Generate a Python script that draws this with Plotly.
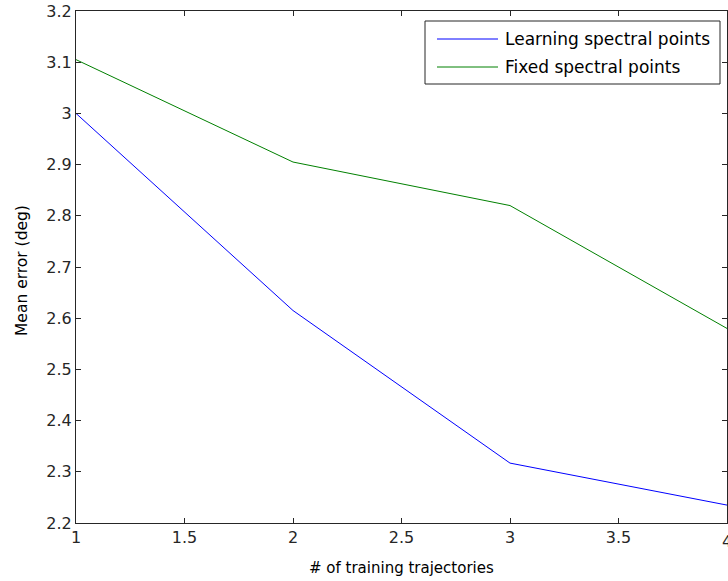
import plotly.graph_objects as go

# Training set size vs. mean angular error
trajectories = [1, 2, 3, 4]
learning_err = [3.0, 2.615, 2.317, 2.235]
fixed_err = [3.105, 2.905, 2.82, 2.58]

series_names = ["Learning spectral points", "Fixed spectral points"]
series_colors = ["#0000ff", "#008000"]

x_ticks = [1, 1.5, 2, 2.5, 3, 3.5, 4]
x_tick_text = ["1", "1.5", "2", "2.5", "3", "3.5", "4"]
y_ticks = [2.2, 2.3, 2.4, 2.5, 2.6, 2.7, 2.8, 2.9, 3.0, 3.1, 3.2]
y_tick_text = ["2.2", "2.3", "2.4", "2.5", "2.6", "2.7", "2.8", "2.9", "3", "3.1", "3.2"]

x_title = "# of training trajectories"
y_title = "Mean error (deg)"

W, H = 728, 581
ML, MR, MT, MB = 76, 1, 11, 58
FONT = "DejaVu Sans, Verdana, sans-serif"
INK = "#262626"

fig = go.Figure()
for name, ys, col in zip(series_names, [learning_err, fixed_err], series_colors):
    fig.add_trace(go.Scatter(x=trajectories, y=ys, mode="lines", name=name,
                             line=dict(color=col, width=1), showlegend=False))

axis_common = dict(showline=True, linecolor=INK, linewidth=1, mirror="ticks",
                   ticks="inside", ticklen=5, tickcolor=INK, showgrid=False,
                   zeroline=False, tickfont=dict(family=FONT, size=16, color=INK))

fig.update_xaxes(range=[x_ticks[0], x_ticks[-1]], tickvals=x_ticks, ticktext=x_tick_text,
                 **axis_common)
fig.update_yaxes(range=[y_ticks[0], y_ticks[-1]], tickvals=y_ticks, ticktext=y_tick_text,
                 **axis_common)

pw, ph = W - ML - MR, H - MT - MB
def px(xp):
    return (xp - ML) / pw
def py(yp):
    return 1 - (yp - MT) / ph

# Last x tick label sits on the right edge and runs off the page
fig.add_annotation(xref="x", yref="paper", x=x_ticks[-1], y=py(541), text=x_tick_text[-1],
                   showarrow=False, xanchor="center", yanchor="middle",
                   font=dict(family=FONT, size=16, color=INK))

# Axis titles
fig.add_annotation(xref="paper", yref="paper", x=0.5, y=py(568), text=x_title,
                   showarrow=False, xanchor="center", yanchor="middle",
                   font=dict(family=FONT, size=15, color="#000000"))
fig.add_annotation(xref="paper", yref="paper", x=px(22), y=py(271), text=y_title,
                   showarrow=False, xanchor="center", yanchor="middle", textangle=-90,
                   font=dict(family=FONT, size=15.5, color="#000000"))

# Boxed legend in the upper right corner
fig.add_shape(type="rect", xref="paper", yref="paper",
              x0=px(425), x1=px(720), y0=py(84), y1=py(21),
              line=dict(color=INK, width=1), fillcolor="white")
for i, (name, col) in enumerate(zip(series_names, series_colors)):
    yrow = 39 + i * 28
    fig.add_shape(type="line", xref="paper", yref="paper",
                  x0=px(437), x1=px(498), y0=py(yrow), y1=py(yrow),
                  line=dict(color=col, width=1))
    fig.add_annotation(xref="paper", yref="paper", x=px(503), y=py(yrow),
                       text=name, showarrow=False, xanchor="left", yanchor="middle",
                       font=dict(family=FONT, size=17, color="#000000"))

fig.update_layout(width=W, height=H, margin=dict(l=ML, r=MR, t=MT, b=MB),
                  paper_bgcolor="white", plot_bgcolor="white")

fig.write_html("out.html")
